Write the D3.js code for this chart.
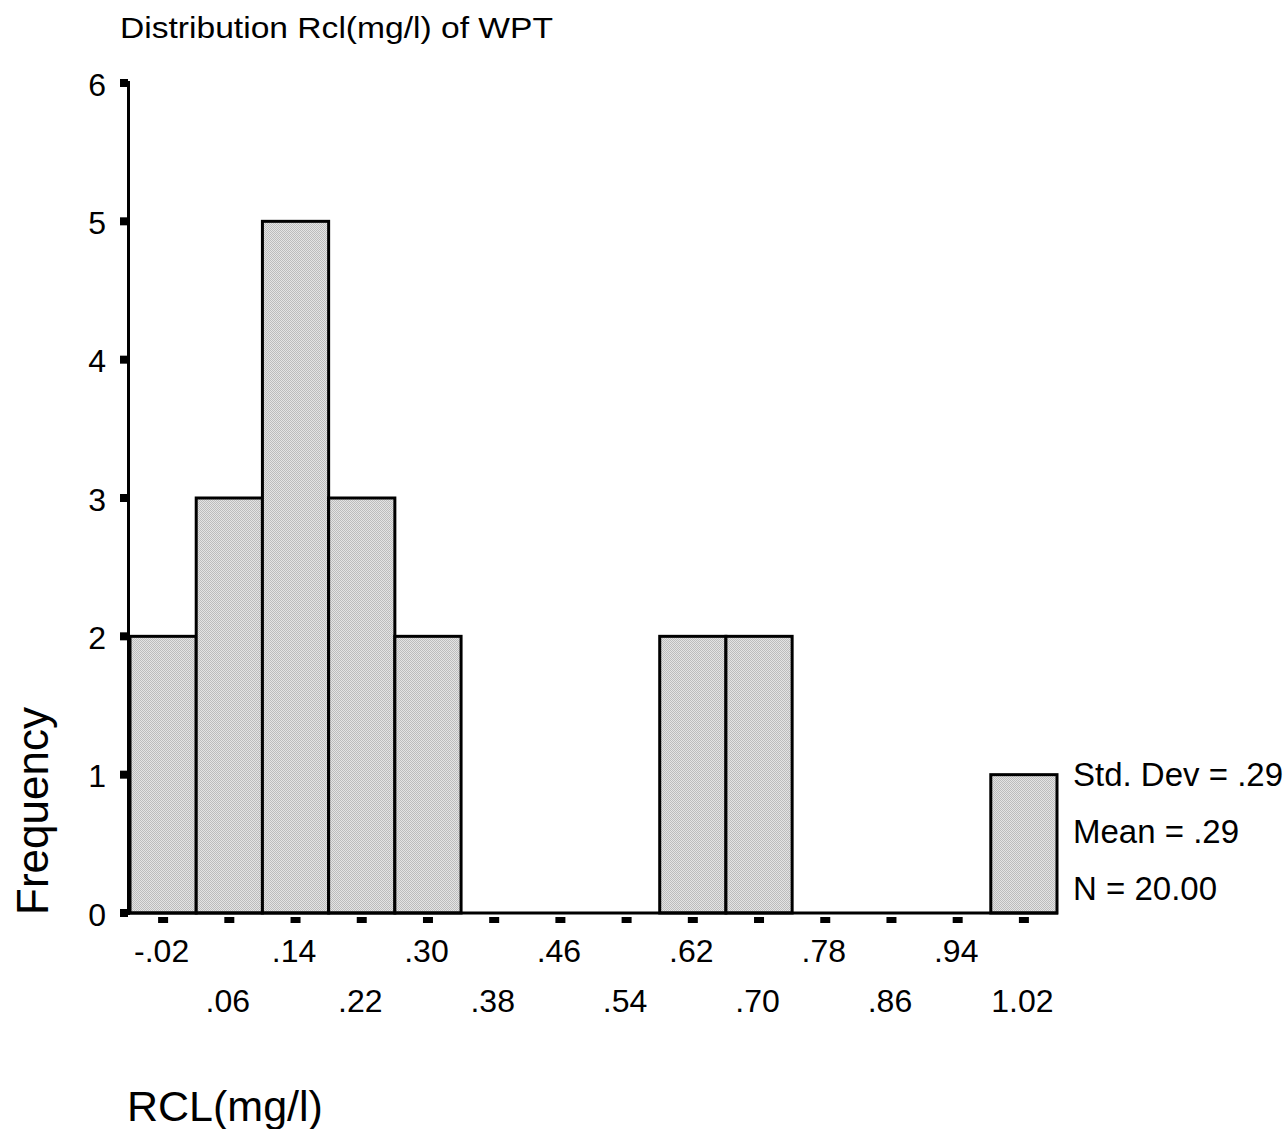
<!DOCTYPE html>
<html>
<head>
<meta charset="utf-8">
<script src="https://cdn.jsdelivr.net/npm/d3@7"></script>
<style>
  body { margin: 0; background: #fff; }
  text { font-family: "Liberation Sans", Arial, sans-serif; fill: #000; }
  .axis .domain { display: none; }
</style>
</head>
<body>
<svg width="1286" height="1129"></svg>
<script>
// bin midpoints en frequenties
var binMids = [-0.02, 0.06, 0.14, 0.22, 0.30, 0.38, 0.46, 0.54, 0.62, 0.70, 0.78, 0.86, 0.94, 1.02];
var counts  = [2, 3, 5, 3, 2, 0, 0, 0, 2, 2, 0, 0, 0, 1];
var binWidth = 0.08;
var yTicks = [0, 1, 2, 3, 4, 5, 6];
var labelsRow1 = [-0.02, 0.14, 0.30, 0.46, 0.62, 0.78, 0.94];
var labelsRow2 = [0.06, 0.22, 0.38, 0.54, 0.70, 0.86, 1.02];
var stats = ["Std. Dev = .29", "Mean = .29", "N = 20.00"];

var svg = d3.select("svg");

var x = d3.scaleLinear().domain([-0.06, 1.06]).range([130, 1057]),
    y = d3.scaleLinear().domain([0, 6]).range([913, 83]);

// ".14" en "-.02" zoals SPSS
var fmt = function(d) {
  var s = Math.abs(d).toFixed(2).replace(/^0\./, ".");
  return (d < 0 ? "-" : "") + s;
};

// gearceerde vulling
var pat = svg.append("defs").append("pattern")
    .attr("id", "hatch")
    .attr("width", 2).attr("height", 2)
    .attr("patternUnits", "userSpaceOnUse");
pat.append("rect").attr("width", 2).attr("height", 2).attr("fill", "#e4e4e4");
pat.append("rect").attr("width", 1).attr("height", 1).attr("fill", "#bcbcbc");
pat.append("rect").attr("x", 1).attr("y", 1).attr("width", 1).attr("height", 1).attr("fill", "#bcbcbc");

svg.append("text")
    .attr("x", 120).attr("y", 38)
    .attr("font-size", 30)
    .attr("textLength", 433)
    .attr("lengthAdjust", "spacingAndGlyphs")
    .text("Distribution Rcl(mg/l) of WPT");

var data = binMids.map(function(m, i) { return {mid: m, count: counts[i]}; });

svg.selectAll(".bar")
  .data(data.filter(function(d) { return d.count > 0; }))
  .enter().append("rect")
    .attr("class", "bar")
    .attr("x", function(d) { return x(d.mid - binWidth / 2); })
    .attr("y", function(d) { return y(d.count); })
    .attr("width", function(d) { return x(d.mid + binWidth / 2) - x(d.mid - binWidth / 2); })
    .attr("height", function(d) { return y(0) - y(d.count); })
    .attr("fill", "url(#hatch)")
    .attr("stroke", "#000")
    .attr("stroke-width", 3);

// assen
svg.append("line")
    .attr("x1", 128.5).attr("x2", 128.5)
    .attr("y1", y(6) - 2).attr("y2", y(0) + 2)
    .attr("stroke", "#000").attr("stroke-width", 3);
svg.append("line")
    .attr("x1", 121).attr("x2", x(1.06) + 1)
    .attr("y1", y(0)).attr("y2", y(0))
    .attr("stroke", "#000").attr("stroke-width", 3);

// y tick blokjes
svg.selectAll(".ytick")
  .data(yTicks)
  .enter().append("rect")
    .attr("x", 120)
    .attr("y", function(d) { return y(d) - 4; })
    .attr("width", 8).attr("height", 8)
    .attr("fill", "#000");

svg.append("g")
    .attr("class", "axis")
    .attr("transform", "translate(118,0)")
    .call(d3.axisLeft(y).tickValues(yTicks).tickSize(0).tickPadding(12).tickFormat(d3.format("d")))
    .selectAll("text")
      .attr("font-size", 32)
      .attr("dy", "0.38em")
      .style("font-family", "'Liberation Sans', Arial, sans-serif")
      .attr("fill", "#000");

// x tick blokjes
svg.selectAll(".xtick")
  .data(binMids)
  .enter().append("rect")
    .attr("x", function(d) { return x(d) - 5; })
    .attr("y", 917)
    .attr("width", 10).attr("height", 6)
    .attr("fill", "#000");

[[labelsRow1, 939], [labelsRow2, 989]].forEach(function(row) {
  svg.append("g")
      .attr("class", "axis")
      .attr("transform", "translate(-2," + row[1] + ")")
      .call(d3.axisBottom(x).tickValues(row[0]).tickSize(0).tickPadding(0).tickFormat(fmt))
      .selectAll("text")
        .attr("font-size", 32)
        .style("font-family", "'Liberation Sans', Arial, sans-serif")
        .attr("fill", "#000");
});

svg.append("text")
    .attr("transform", "translate(48,915) rotate(-90)")
    .attr("font-size", 44)
    .text("Frequency");

svg.append("text")
    .attr("x", 127).attr("y", 1121)
    .attr("font-size", 43)
    .text("RCL(mg/l)");

svg.selectAll(".stat")
  .data(stats)
  .enter().append("text")
    .attr("x", 1073)
    .attr("y", function(d, i) { return 786 + i * 57; })
    .attr("font-size", 33)
    .text(function(d) { return d; });
</script>
</body>
</html>
